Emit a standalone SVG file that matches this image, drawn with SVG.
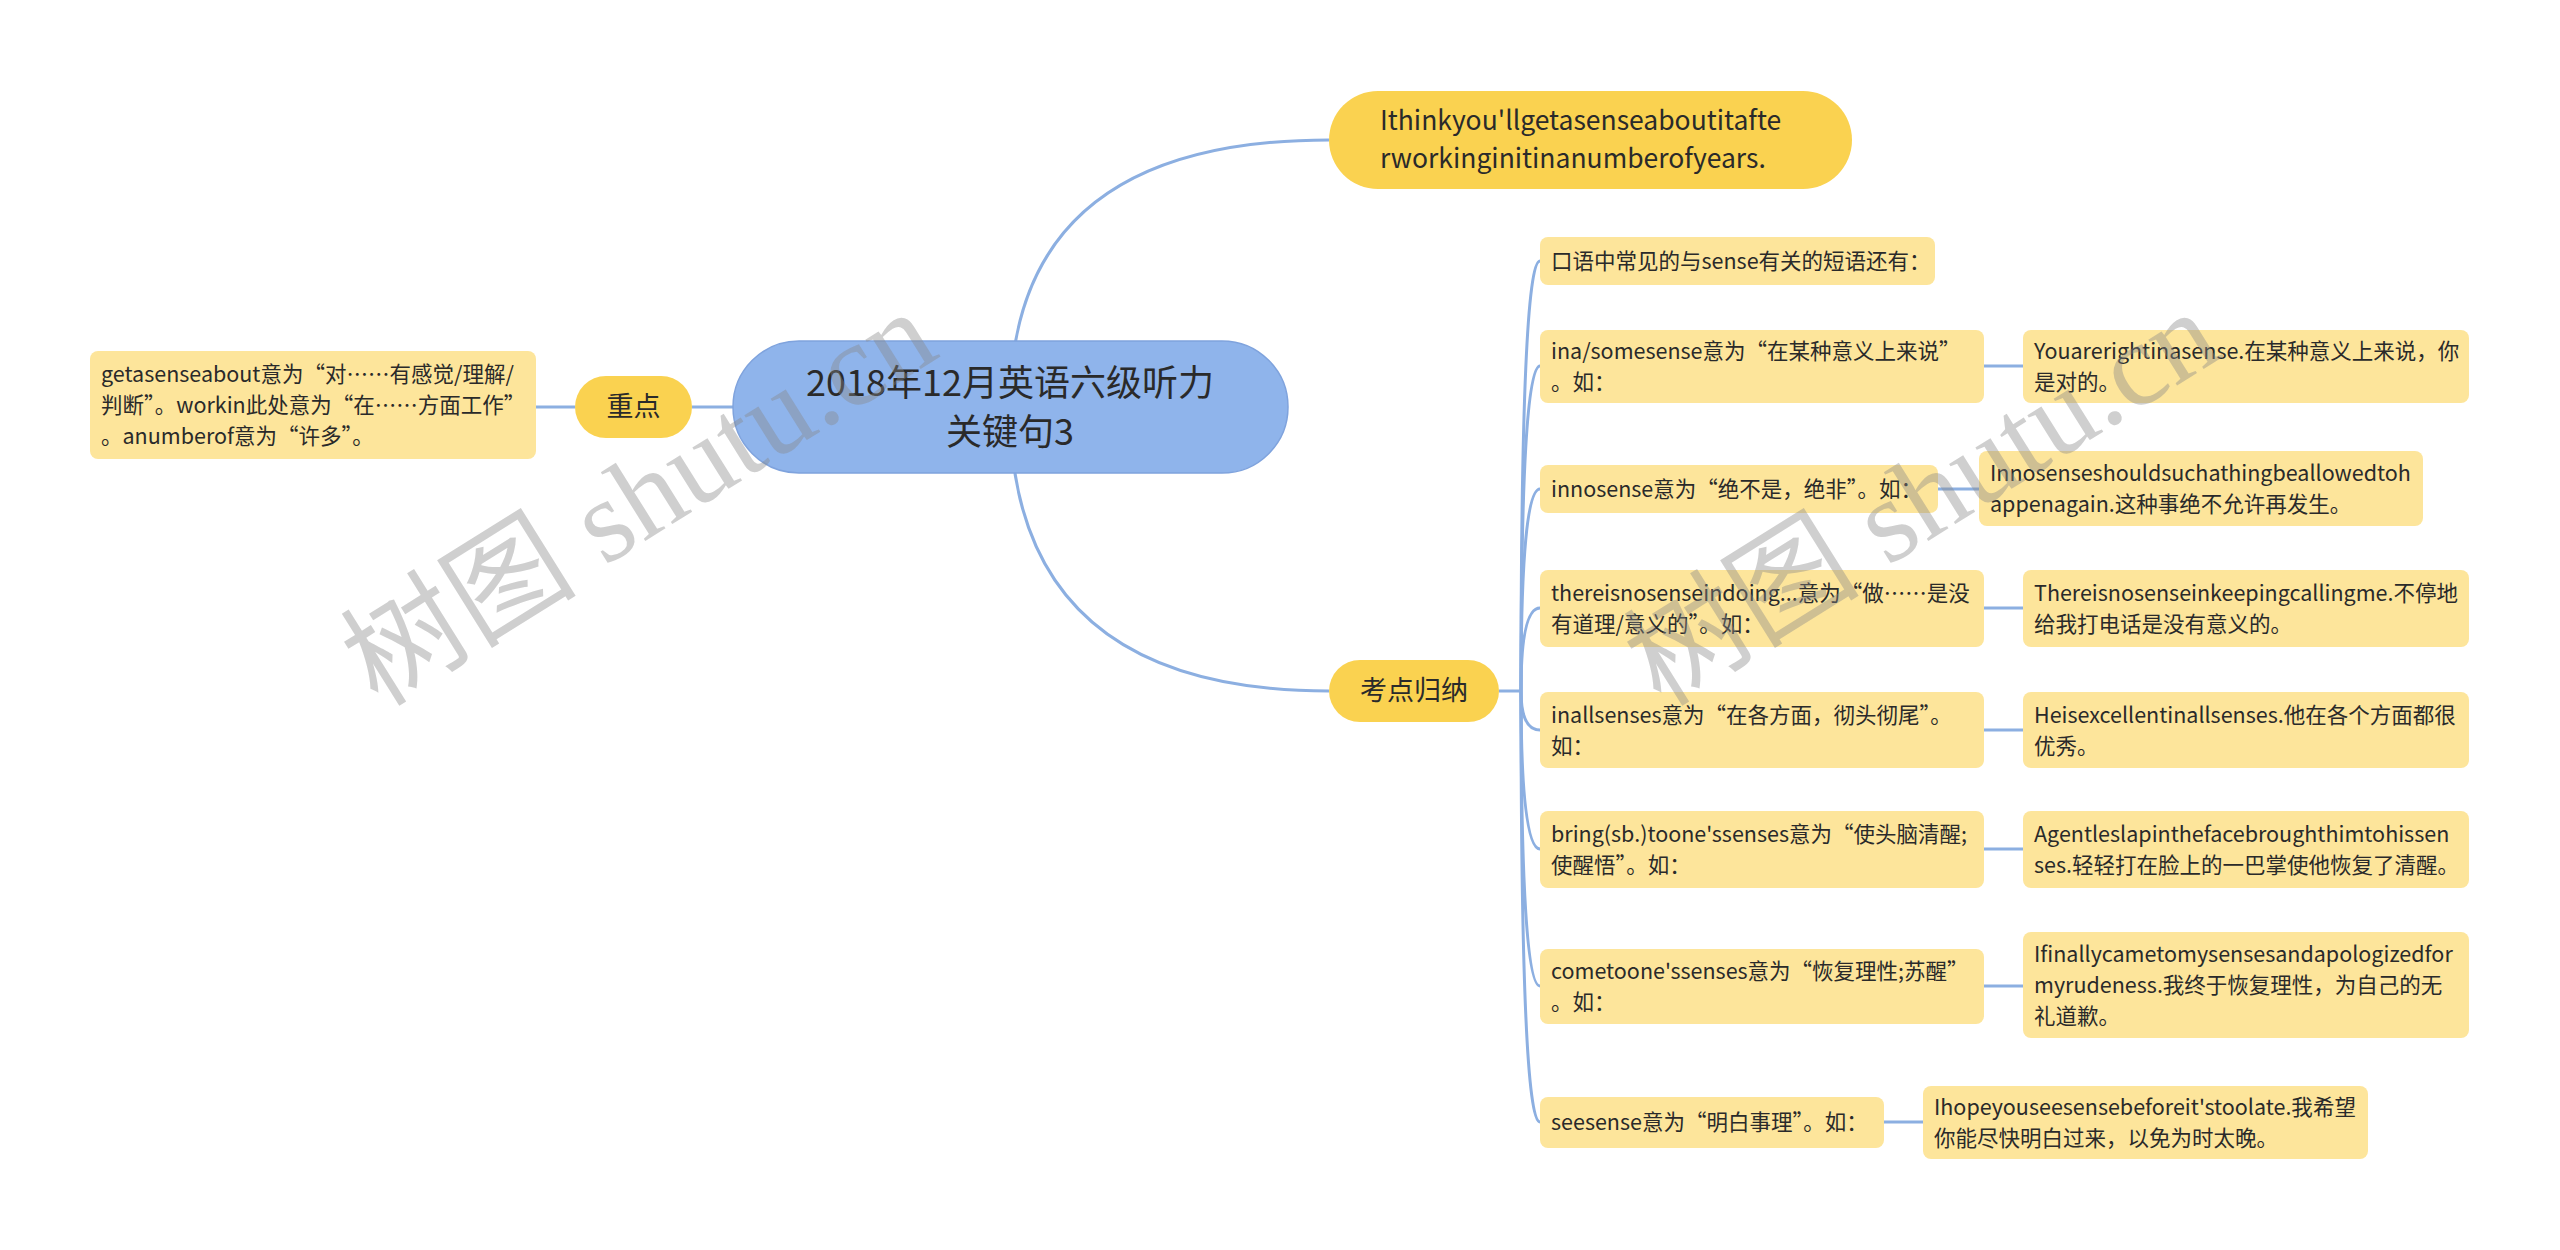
<svg xmlns="http://www.w3.org/2000/svg" width="2560" height="1250" viewBox="0 0 2560 1250">
<style>
text{font-family:"Noto Sans CJK SC","Noto Sans",sans-serif;fill:#2a2a2a}
.leaf{fill:#fde59b}
.topic{fill:#fad250}
.root{fill:#8fb4eb;stroke:#7fa3dd;stroke-width:1.5}
.t22{font-size:21.5px}
.line{fill:none;stroke:#8cafe1;stroke-width:3}
.wm{font-family:"Liberation Serif","Noto Sans CJK SC",serif;font-size:118px;fill:#888;fill-opacity:0.4}
</style>
<rect width="2560" height="1250" fill="#fff"/>
<g id="connectors">
<path class="line" d="M536 407H575M692 407H733"/>
<path class="line" d="M1010 407Q1010 140 1329 140"/>
<path class="line" d="M1010 407Q1010 691 1329 691"/>
<path class="line" d="M1499 691H1521"/>
<path class="line" d="M1521 691Q1521 261 1540 261"/>
<path class="line" d="M1521 691Q1521 366 1540 366"/>
<path class="line" d="M1521 691Q1521 489 1540 489"/>
<path class="line" d="M1521 691Q1521 608 1540 608"/>
<path class="line" d="M1521 691Q1521 730 1540 730"/>
<path class="line" d="M1521 691Q1521 849 1540 849"/>
<path class="line" d="M1521 691Q1521 986 1540 986"/>
<path class="line" d="M1521 691Q1521 1122 1540 1122"/>
<path class="line" d="M1984 366H2023M1938 489H1979M1984 608H2023M1984 730H2023M1984 849H2023M1984 986H2023M1884 1122H1923"/>
</g>
<g id="root">
<rect class="root" x="733" y="341" width="555" height="132" rx="66"/>
<text x="1010" y="396" font-size="36" text-anchor="middle">2018年12月英语六级听力</text>
<text x="1010" y="445" font-size="36" text-anchor="middle">关键句3</text>
</g>
<g id="n-zhongdian">
<rect class="topic" x="575" y="376" width="117" height="62" rx="31"/>
<text x="633.5" y="416" font-size="27" text-anchor="middle">重点</text>
</g>
<g id="n-zhongdian-leaf">
<rect class="leaf" x="90" y="351" width="446" height="108" rx="8"/>
<text class="t22" x="101" y="382">getasenseabout意为“对……有感觉/理解/</text>
<text class="t22" x="101" y="413">判断”。workin此处意为“在……方面工作”</text>
<text class="t22" x="101" y="444">。anumberof意为“许多”。</text>
</g>
<g id="n-top">
<rect class="topic" x="1329" y="91" width="523" height="98" rx="49"/>
<text x="1380" y="130" font-size="26.5">Ithinkyou'llgetasenseaboutitafte</text>
<text x="1380" y="168" font-size="26.5">rworkinginitinanumberofyears.</text>
</g>
<g id="n-kaodian">
<rect class="topic" x="1329" y="660" width="170" height="62" rx="31"/>
<text x="1414" y="700" font-size="27" text-anchor="middle">考点归纳</text>
</g>
<g id="c1">
<rect class="leaf" x="1540" y="237" width="395" height="48" rx="8"/>
<text class="t22" x="1551" y="269">口语中常见的与sense有关的短语还有：</text>
</g>
<g id="c2">
<rect class="leaf" x="1540" y="330" width="444" height="73" rx="8"/>
<text class="t22" x="1551" y="359">ina/somesense意为“在某种意义上来说”</text>
<text class="t22" x="1551" y="390">。如：</text>
</g>
<g id="c2r">
<rect class="leaf" x="2023" y="330" width="446" height="73" rx="8"/>
<text class="t22" x="2034" y="359">Youarerightinasense.在某种意义上来说，你</text>
<text class="t22" x="2034" y="390">是对的。</text>
</g>
<g id="c3">
<rect class="leaf" x="1540" y="465" width="398" height="48" rx="8"/>
<text class="t22" x="1551" y="497">innosense意为“绝不是，绝非”。如：</text>
</g>
<g id="c3r">
<rect class="leaf" x="1979" y="451" width="444" height="75" rx="8"/>
<text class="t22" x="1990" y="481">Innosenseshouldsuchathingbeallowedtoh</text>
<text class="t22" x="1990" y="512">appenagain.这种事绝不允许再发生。</text>
</g>
<g id="c4">
<rect class="leaf" x="1540" y="570" width="444" height="77" rx="8"/>
<text class="t22" x="1551" y="601">thereisnosenseindoing...意为“做……是没</text>
<text class="t22" x="1551" y="632">有道理/意义的”。如：</text>
</g>
<g id="c4r">
<rect class="leaf" x="2023" y="570" width="446" height="77" rx="8"/>
<text class="t22" x="2034" y="601">Thereisnosenseinkeepingcallingme.不停地</text>
<text class="t22" x="2034" y="632">给我打电话是没有意义的。</text>
</g>
<g id="c5">
<rect class="leaf" x="1540" y="692" width="444" height="76" rx="8"/>
<text class="t22" x="1551" y="723">inallsenses意为“在各方面，彻头彻尾”。</text>
<text class="t22" x="1551" y="754">如：</text>
</g>
<g id="c5r">
<rect class="leaf" x="2023" y="692" width="446" height="76" rx="8"/>
<text class="t22" x="2034" y="723">Heisexcellentinallsenses.他在各个方面都很</text>
<text class="t22" x="2034" y="754">优秀。</text>
</g>
<g id="c6">
<rect class="leaf" x="1540" y="811" width="444" height="77" rx="8"/>
<text class="t22" x="1551" y="842">bring(sb.)toone'ssenses意为“使头脑清醒;</text>
<text class="t22" x="1551" y="873">使醒悟”。如：</text>
</g>
<g id="c6r">
<rect class="leaf" x="2023" y="811" width="446" height="77" rx="8"/>
<text class="t22" x="2034" y="842">Agentleslapinthefacebroughthimtohissen</text>
<text class="t22" x="2034" y="873">ses.轻轻打在脸上的一巴掌使他恢复了清醒。</text>
</g>
<g id="c7">
<rect class="leaf" x="1540" y="949" width="444" height="75" rx="8"/>
<text class="t22" x="1551" y="979">cometoone'ssenses意为“恢复理性;苏醒”</text>
<text class="t22" x="1551" y="1010">。如：</text>
</g>
<g id="c7r">
<rect class="leaf" x="2023" y="932" width="446" height="106" rx="8"/>
<text class="t22" x="2034" y="962">Ifinallycametomysensesandapologizedfor</text>
<text class="t22" x="2034" y="993">myrudeness.我终于恢复理性，为自己的无</text>
<text class="t22" x="2034" y="1024">礼道歉。</text>
</g>
<g id="c8">
<rect class="leaf" x="1540" y="1097" width="344" height="51" rx="8"/>
<text class="t22" x="1551" y="1130">seesense意为“明白事理”。如：</text>
</g>
<g id="c8r">
<rect class="leaf" x="1923" y="1086" width="445" height="73" rx="8"/>
<text class="t22" x="1934" y="1115">Ihopeyouseesensebeforeit'stoolate.我希望</text>
<text class="t22" x="1934" y="1146">你能尽快明白过来，以免为时太晚。</text>
</g>
<g id="watermarks">
<text class="wm" transform="translate(378 708) rotate(-32)" textLength="665" lengthAdjust="spacingAndGlyphs">树图 shutu.cn</text>
<text class="wm" transform="translate(1661 708) rotate(-32)" textLength="665" lengthAdjust="spacingAndGlyphs">树图 shutu.cn</text>
</g>
</svg>
